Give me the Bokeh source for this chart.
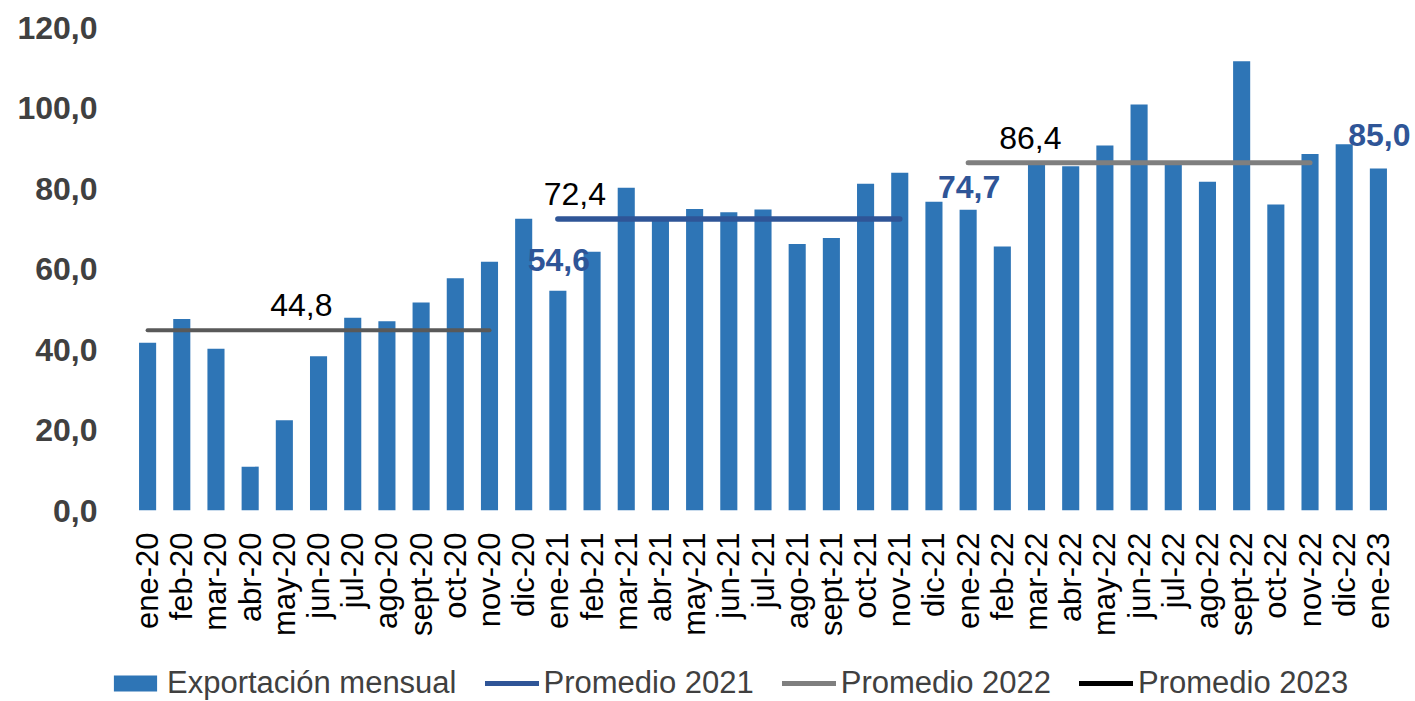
from bokeh.plotting import figure
from bokeh.layouts import column
from bokeh.models import (ColumnDataSource, FactorRange, Range1d, Legend, LegendItem,
                          Label, FixedTicker)
from bokeh.core.properties import value
from bokeh.embed import file_html
from bokeh.resources import INLINE
import math

# ---------------- data ----------------
months = ["ene-20", "feb-20", "mar-20", "abr-20", "may-20", "jun-20", "jul-20", "ago-20",
          "sept-20", "oct-20", "nov-20", "dic-20",
          "ene-21", "feb-21", "mar-21", "abr-21", "may-21", "jun-21", "jul-21", "ago-21",
          "sept-21", "oct-21", "nov-21", "dic-21",
          "ene-22", "feb-22", "mar-22", "abr-22", "may-22", "jun-22", "jul-22", "ago-22",
          "sept-22", "oct-22", "nov-22", "dic-22",
          "ene-23"]
exports = [41.7, 47.6, 40.2, 10.9, 22.4, 38.3, 47.9, 47.0, 51.7, 57.7, 61.8, 72.5,
           54.6, 64.3, 80.2, 72.8, 74.9, 74.1, 74.8, 66.2, 67.7, 81.2, 83.9, 76.7,
           74.7, 65.6, 86.8, 85.5, 90.7, 100.9, 86.0, 81.7, 111.6, 76.0, 88.6, 91.0,
           85.0]

avg_values = [44.8, 72.4, 86.4]
avg_labels = ["44,8", "72,4", "86,4"]
avg_start = ["ene-20", "ene-21", "ene-22"]
avg_end = ["nov-20", "nov-21", "nov-22"]

highlight_months = ["ene-21", "ene-22", "ene-23"]
highlight_labels = ["54,6", "74,7", "85,0"]

y_ticks = [0, 20, 40, 60, 80, 100, 120]
y_tick_labels = ["0,0", "20,0", "40,0", "60,0", "80,0", "100,0", "120,0"]

title_text = "En millones de USD"
legend_labels = ["Exportación mensual", "Promedio 2021", "Promedio 2022", "Promedio 2023"]

# ---------------- styles ----------------
BAR = "#2E75B6"
BLUE_DARK = "#2F5597"
GRAY_DARK = "#595959"
GRAY = "#7F7F7F"
TXT = "#404040"
FONT = "Liberation Sans"

W = 1415
H_MAIN, H_LEG = 655, 46
PAD = 0.585  # category padding on both ends (lets the last label fit inside the frame)

xr = FactorRange(*months, range_padding=PAD, range_padding_units="absolute")
p = figure(width=W, height=H_MAIN, x_range=xr, y_range=Range1d(0, 120),
           output_backend="svg", toolbar_location=None,
           min_border_left=110, min_border_right=0, min_border_top=27,
           min_border_bottom=H_MAIN - 510)
p.outline_line_color = None
p.xgrid.grid_line_color = None
p.ygrid.grid_line_color = None
p.background_fill_color = "white"
p.border_fill_color = "white"

# axes
p.yaxis.ticker = FixedTicker(ticks=y_ticks)
p.yaxis.major_label_overrides = {t: l for t, l in zip(y_ticks, y_tick_labels)}
p.yaxis.axis_line_color = None
p.yaxis.major_tick_line_color = None
p.yaxis.minor_tick_line_color = None
p.yaxis.major_tick_out = 0
p.yaxis.minor_tick_out = 0
p.yaxis.major_label_text_font = FONT
p.yaxis.major_label_text_font_size = "32px"
p.yaxis.major_label_text_font_style = "bold"
p.yaxis.major_label_text_color = TXT
p.yaxis.major_label_standoff = 13

p.xaxis.axis_line_color = None
p.xaxis.major_tick_line_color = None
p.xaxis.minor_tick_line_color = None
p.xaxis.major_tick_out = 0
p.xaxis.minor_tick_out = 0
p.xaxis.major_label_orientation = math.pi / 2
p.xaxis.major_label_text_font = FONT
p.xaxis.major_label_text_font_size = "31px"
p.xaxis.major_label_text_color = "black"
p.xaxis.major_label_standoff = 22

# bars
src = ColumnDataSource(dict(m=months, v=exports))
p.vbar(x="m", top="v", width=0.5, source=src, fill_color=BAR, line_color=None)

# average lines
line_colors = [GRAY_DARK, BLUE_DARK, GRAY]
line_widths = [4, 5.5, 5]
for val, s, e, c, w in zip(avg_values, avg_start, avg_end, line_colors, line_widths):
    p.line(x=[s, e], y=[val, val], line_color=c, line_width=w, line_cap="round")

# average labels (anchor category + pixel offsets)
avg_label_anchor = ["may-20", "ene-21", "feb-22"]
avg_label_dx = [17, 17, 28]
for val, lab, a, dx in zip(avg_values, avg_labels, avg_label_anchor, avg_label_dx):
    p.text(x=[a], y=[val], text=[lab], x_offset=dx, y_offset=-25,
           text_font=value(FONT), text_font_size="32px", text_color="black",
           text_align="center", text_baseline="middle")

# highlighted value labels
hl_dy = [-31, -23, -33]
for m, lab, dy in zip(highlight_months, highlight_labels, hl_dy):
    i = months.index(m)
    p.text(x=[m], y=[exports[i]], text=[lab], x_offset=1, y_offset=dy,
           text_font=value(FONT), text_font_size="32px", text_font_style="bold",
           text_color=BLUE_DARK, text_align="center", text_baseline="middle")

# title (cut off at top as in reference)
p.add_layout(Label(x=627, y=505, x_units="screen", y_units="screen",
                   text=title_text, text_font=FONT, text_font_size="36px",
                   text_font_style="bold", text_color=TXT,
                   text_align="center", text_baseline="alphabetic"))

# ---------------- legend strip ----------------
q = figure(width=W, height=H_LEG, x_range=Range1d(0, 1), y_range=Range1d(0, 1),
           output_backend="svg", toolbar_location=None, x_axis_type=None, y_axis_type=None,
           min_border=0, min_border_left=0, min_border_right=0,
           min_border_top=0, min_border_bottom=0)
q.outline_line_color = None
q.xgrid.grid_line_color = None
q.ygrid.grid_line_color = None
for fig in (p, q):
    try:
        fig.frame_align = False
    except Exception:
        pass
# legend proxies (kept outside the strip's visible range)
r_bar = q.vbar(x=[5], top=[5], width=0.5, fill_color=BAR, line_color=None)
r_l1 = q.line(x=[5, 6], y=[5, 5], line_color=BLUE_DARK, line_width=5, line_cap="round")
r_l2 = q.line(x=[5, 6], y=[5, 5], line_color=GRAY, line_width=5, line_cap="round")
r_l3 = q.line(x=[5, 6], y=[5, 5], line_color="black", line_width=5, line_cap="round")
items = [LegendItem(label=lab, renderers=[r])
         for lab, r in zip(legend_labels, [r_bar, r_l1, r_l2, r_l3])]
legend = Legend(items=items, orientation="horizontal", location=(108, 0),
                label_text_font=FONT, label_text_font_size="31px", label_text_color=TXT,
                glyph_width=54, glyph_height=20, label_standoff=5, spacing=28,
                padding=0, margin=0, border_line_color=None, background_fill_alpha=0)
q.add_layout(legend, "center")

layout = column(p, q, spacing=0)
open("out.html", "w").write(file_html(layout, INLINE))
